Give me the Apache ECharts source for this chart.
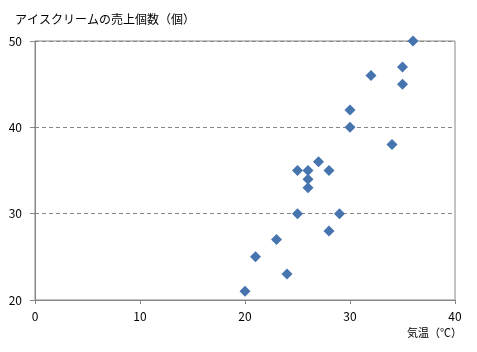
<!DOCTYPE html>
<html>
<head>
<meta charset="utf-8">
<script src="https://cdn.jsdelivr.net/npm/echarts@6/dist/echarts.min.js"></script>
<style>html,body{margin:0;padding:0;background:#fff}#c{width:477px;height:352px}</style>
</head>
<body>
<div id="c"></div>
<script>
const temperature = [20, 21, 23, 24, 25, 25, 26, 26, 26, 27, 28, 28, 29, 30, 30, 32, 34, 35, 35, 36];
const sales = [21, 25, 27, 23, 30, 35, 35, 34, 33, 36, 35, 28, 30, 42, 40, 46, 38, 47, 45, 50];
const xTitle = '気温（℃）';
const yTitle = 'アイスクリームの売上個数（個）';

const points = temperature.map((t, i) => [t, sales[i]]);
const font = '"Noto Sans CJK JP", "Noto Sans", sans-serif';
const chart = echarts.init(document.getElementById('c'), null, {renderer: 'canvas'});
chart.setOption({
  animation: false,
  backgroundColor: '#fff',
  grid: {left: 35, right: 22, top: 41, bottom: 52, show: true, borderColor: '#868686', borderWidth: 1},
  xAxis: {
    type: 'value', min: 0, max: 40, interval: 10,
    axisLine: {show: true, lineStyle: {color: '#868686'}},
    axisTick: {show: true, length: 4, lineStyle: {color: '#868686'}},
    axisLabel: {color: '#000', fontSize: 12, margin: 10, fontFamily: font},
    splitLine: {show: false}
  },
  yAxis: {
    type: 'value', min: 20, max: 50, interval: 10,
    axisLine: {show: true, lineStyle: {color: '#868686'}},
    axisTick: {show: true, length: 5, lineStyle: {color: '#868686'}},
    axisLabel: {color: '#000', fontSize: 12, margin: 13, fontFamily: font},
    splitLine: {show: true, lineStyle: {color: '#868686', type: [4, 3]}}
  },
  graphic: [
    {type: 'text', left: 15, top: 13, style: {text: yTitle, fill: '#000', font: '12px ' + font}},
    {type: 'text', right: 15, top: 327, style: {text: xTitle, fill: '#000', font: '11px ' + font}}
  ],
  series: [{
    type: 'scatter',
    data: points,
    symbol: 'diamond',
    symbolSize: 11,
    itemStyle: {color: '#4674AE', opacity: 1}
  }]
});
</script>
</body>
</html>
